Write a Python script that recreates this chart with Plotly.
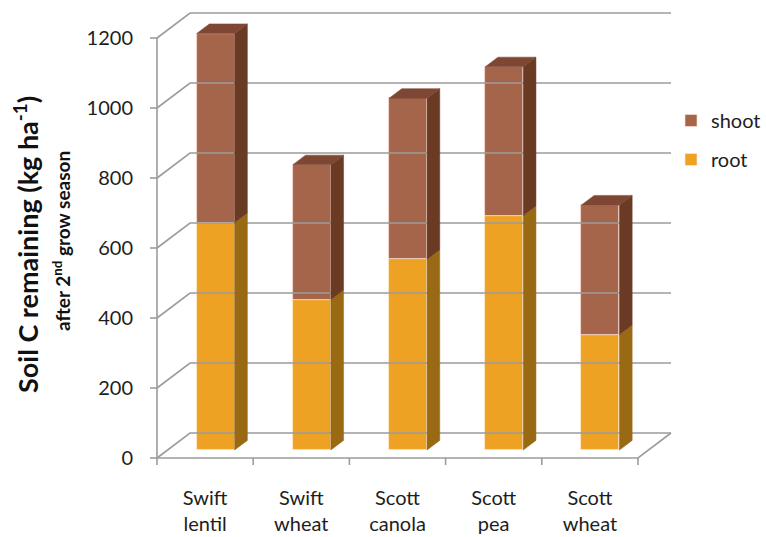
import plotly.graph_objects as go

# ---- data ----
categories = ["Swift<br>lentil", "Swift<br>wheat", "Scott<br>canola", "Scott<br>pea", "Scott<br>wheat"]
root = [650, 430, 545, 670, 330]
shoot = [540, 385, 460, 425, 370]
y_ticks = [0, 200, 400, 600, 800, 1000, 1200]

# ---- styling / pseudo-3D geometry ----
C_ROOT, C_ROOT_SIDE = "#EEA224", "#9A6913"
C_SHOOT, C_SHOOT_SIDE, C_SHOOT_TOP = "#A5654A", "#6A3A25", "#7E4734"
GRID = "#9c9c9c"
FONT = "Lato"
DX, DY = 0.343, 71.4          # full depth offset (category units, value units)
F0, FD = 0.32, 0.385          # bar front depth fraction, bar depth fraction
BW = 0.395                    # bar width (category units)
n = len(categories)
XL, XR = -0.5, n - 0.5
TICK_X, TICK_Y = 0.073, 20

fig = go.Figure()

def line(xs, ys, color=GRID, w=1.6):
    fig.add_trace(go.Scatter(x=xs, y=ys, mode="lines", line=dict(color=color, width=w),
                             showlegend=False, hoverinfo="skip"))

# walls
for v in y_ticks:
    line([XL, XL + DX, XR + DX], [v, v + DY, v + DY])
line([XL, XR, XR + DX], [0, 0, DY])
line([XL, XL], [0, y_ticks[-1]])
for v in y_ticks:
    line([XL - TICK_X, XL], [v, v])
for k in range(n + 1):
    line([XL + k, XL + k], [0, -TICK_Y])

# bars
xs = [i + F0 * DX for i in range(n)]
bases_root = [F0 * DY] * n
bases_shoot = [F0 * DY + r for r in root]

def poly(px, py, color):
    fig.add_trace(go.Scatter(x=px + [px[0]], y=py + [py[0]], mode="lines", fill="toself",
                             fillcolor=color, line=dict(width=0.5, color=color),
                             showlegend=False, hoverinfo="skip"))

for i in range(n):
    xr = xs[i] + BW / 2
    xl = xs[i] - BW / 2
    for b, h, col in [(bases_root[i], root[i], C_ROOT_SIDE), (bases_shoot[i], shoot[i], C_SHOOT_SIDE)]:
        t = b + h
        poly([xr, xr + FD * DX, xr + FD * DX, xr], [b, b + FD * DY, t + FD * DY, t], col)
    T = bases_shoot[i] + shoot[i]
    poly([xl, xr, xr + FD * DX, xl + FD * DX], [T, T, T + FD * DY, T + FD * DY], C_SHOOT_TOP)

fig.add_trace(go.Bar(x=xs, y=root, base=bases_root, width=BW, name="root",
                     marker=dict(color=C_ROOT, line=dict(width=0.8, color="rgba(255,235,215,0.8)")),
                     legendrank=2, legendgroup="r"))
fig.add_trace(go.Bar(x=xs, y=shoot, base=bases_shoot, width=BW, name="shoot",
                     marker=dict(color=C_SHOOT, line=dict(width=0.8, color="rgba(255,225,215,0.8)")),
                     legendrank=1, legendgroup="s"))

PX_PER_CAT, PX_PER_UNIT = 96.2, 0.35
ML, MR, MT, MB = 148, 0, 10, 67
W, H = 766, 537
PW, PH = W - ML - MR, H - MT - MB
x_lo = XL - (157 - ML) / PX_PER_CAT
x_hi = x_lo + PW / PX_PER_CAT
y_hi = (458 - MT) / PX_PER_UNIT
y_lo = y_hi - PH / PX_PER_UNIT

fig.update_layout(
    width=W, height=H, margin=dict(l=ML, r=MR, t=MT, b=MB, autoexpand=False),
    paper_bgcolor="white", plot_bgcolor="white",
    barmode="overlay", bargap=0,
    font=dict(family=FONT, color="#1e1e1e"),
    xaxis=dict(range=[x_lo, x_hi], tickvals=list(range(n)), ticktext=categories,
               showgrid=False, zeroline=False, showline=False, ticks="", automargin=False,
               tickfont=dict(size=20, family=FONT), ticklabelstandoff=14),
    yaxis=dict(range=[y_lo, y_hi], tickvals=y_ticks, ticktext=[str(v) for v in y_ticks],
               showgrid=False, zeroline=False, showline=False, ticks="", automargin=False,
               tickfont=dict(size=20, family=FONT), ticklabelstandoff=14),
    legend=dict(x=(671 - ML) / PW, y=(H - MB - 101) / PH, xanchor="left", yanchor="top",
                font=dict(size=20, family=FONT),
                traceorder="grouped", tracegroupgap=10, bgcolor="rgba(0,0,0,0)"),
    showlegend=True,
    annotations=[
        dict(text="<b>Soil C remaining (kg ha<sup>-1</sup>)</b>", textangle=-90,
             x=(26 - ML) / PW, y=(H - MB - 245) / PH,
             xref="paper", yref="paper", xanchor="center", yanchor="middle",
             showarrow=False, font=dict(size=27, family=FONT, color="#111")),
        dict(text="<b>after 2<sup>nd</sup> grow season</b>", textangle=-90,
             x=(61 - ML) / PW, y=(H - MB - 241) / PH,
             xref="paper", yref="paper", xanchor="center", yanchor="middle",
             showarrow=False, font=dict(size=19, family=FONT, color="#111")),
    ],
)

fig.write_html("out.html")
